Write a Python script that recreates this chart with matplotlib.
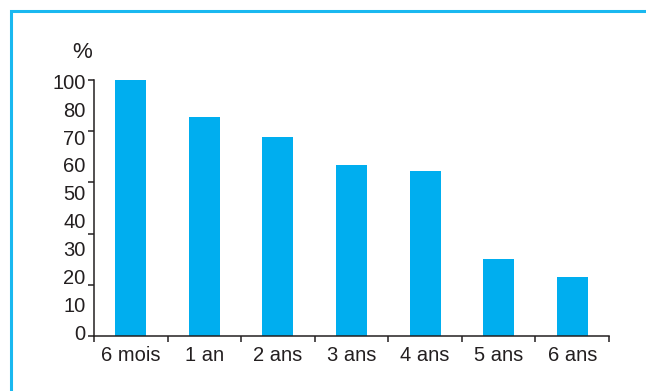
import numpy as np
import matplotlib.pyplot as plt
from matplotlib.patches import Rectangle

plt.rcParams['font.family'] = ['Liberation Sans', 'DejaVu Sans']

# Data
categories = ['6 mois', '1 an', '2 ans', '3 ans', '4 ans', '5 ans', '6 ans']
values = [100, 85.5, 77.7, 66.8, 64.5, 30.1, 23.0]
ytick_labels = ['0', '10', '20', '30', '40', '50', '60', '70', '80', '100']

dark = '#231f20'
blue = '#00aeef'
fs = 14.5

fig = plt.figure(figsize=(6.46, 3.91), dpi=100)
ax = fig.add_axes([94 / 646, 1 - 336 / 391, 515 / 646, 256 / 391])

x = np.arange(len(categories))
ax.bar(x, values, width=0.42, color=blue)

ax.set_xlim(-0.5, len(categories) - 0.5)
ax.set_ylim(0, 100)

# tick marks between categories, labels at centres
ax.set_xticks(np.arange(len(categories) + 1) - 0.5, [''] * (len(categories) + 1))
ax.set_xticks(x, categories, minor=True)
ax.tick_params(axis='x', which='major', length=4, width=1.1, color=dark, direction='out')
ax.tick_params(axis='x', which='minor', length=0, pad=7, labelsize=fs, labelcolor=dark)

# y tick marks every 20, labels spread evenly (as in the original)
ax.set_yticks(np.arange(0, 101, 20), [''] * 6)
ax.set_yticks(np.linspace(1.5, 99.5, len(ytick_labels)), ytick_labels, minor=True)
ax.tick_params(axis='y', which='major', length=4, width=1.1, color=dark, direction='out')
ax.tick_params(axis='y', which='minor', length=0, pad=6, labelsize=fs, labelcolor=dark)

for s in ['top', 'right']:
    ax.spines[s].set_visible(False)
for s in ['left', 'bottom']:
    ax.spines[s].set_color(dark)
    ax.spines[s].set_linewidth(1.1)

fig.text(82 / 646, 1 - 52 / 391, '%', fontsize=16, color=dark, ha='center', va='center')

# light blue frame running off the right and bottom edges
fig.patches.append(Rectangle((10.5 / 646, -0.1), 1.0, 1.1 - 10.5 / 391,
                             transform=fig.transFigure, fill=False,
                             edgecolor='#1ab8f0', linewidth=2.2))

fig.savefig('out.png', dpi=100)
